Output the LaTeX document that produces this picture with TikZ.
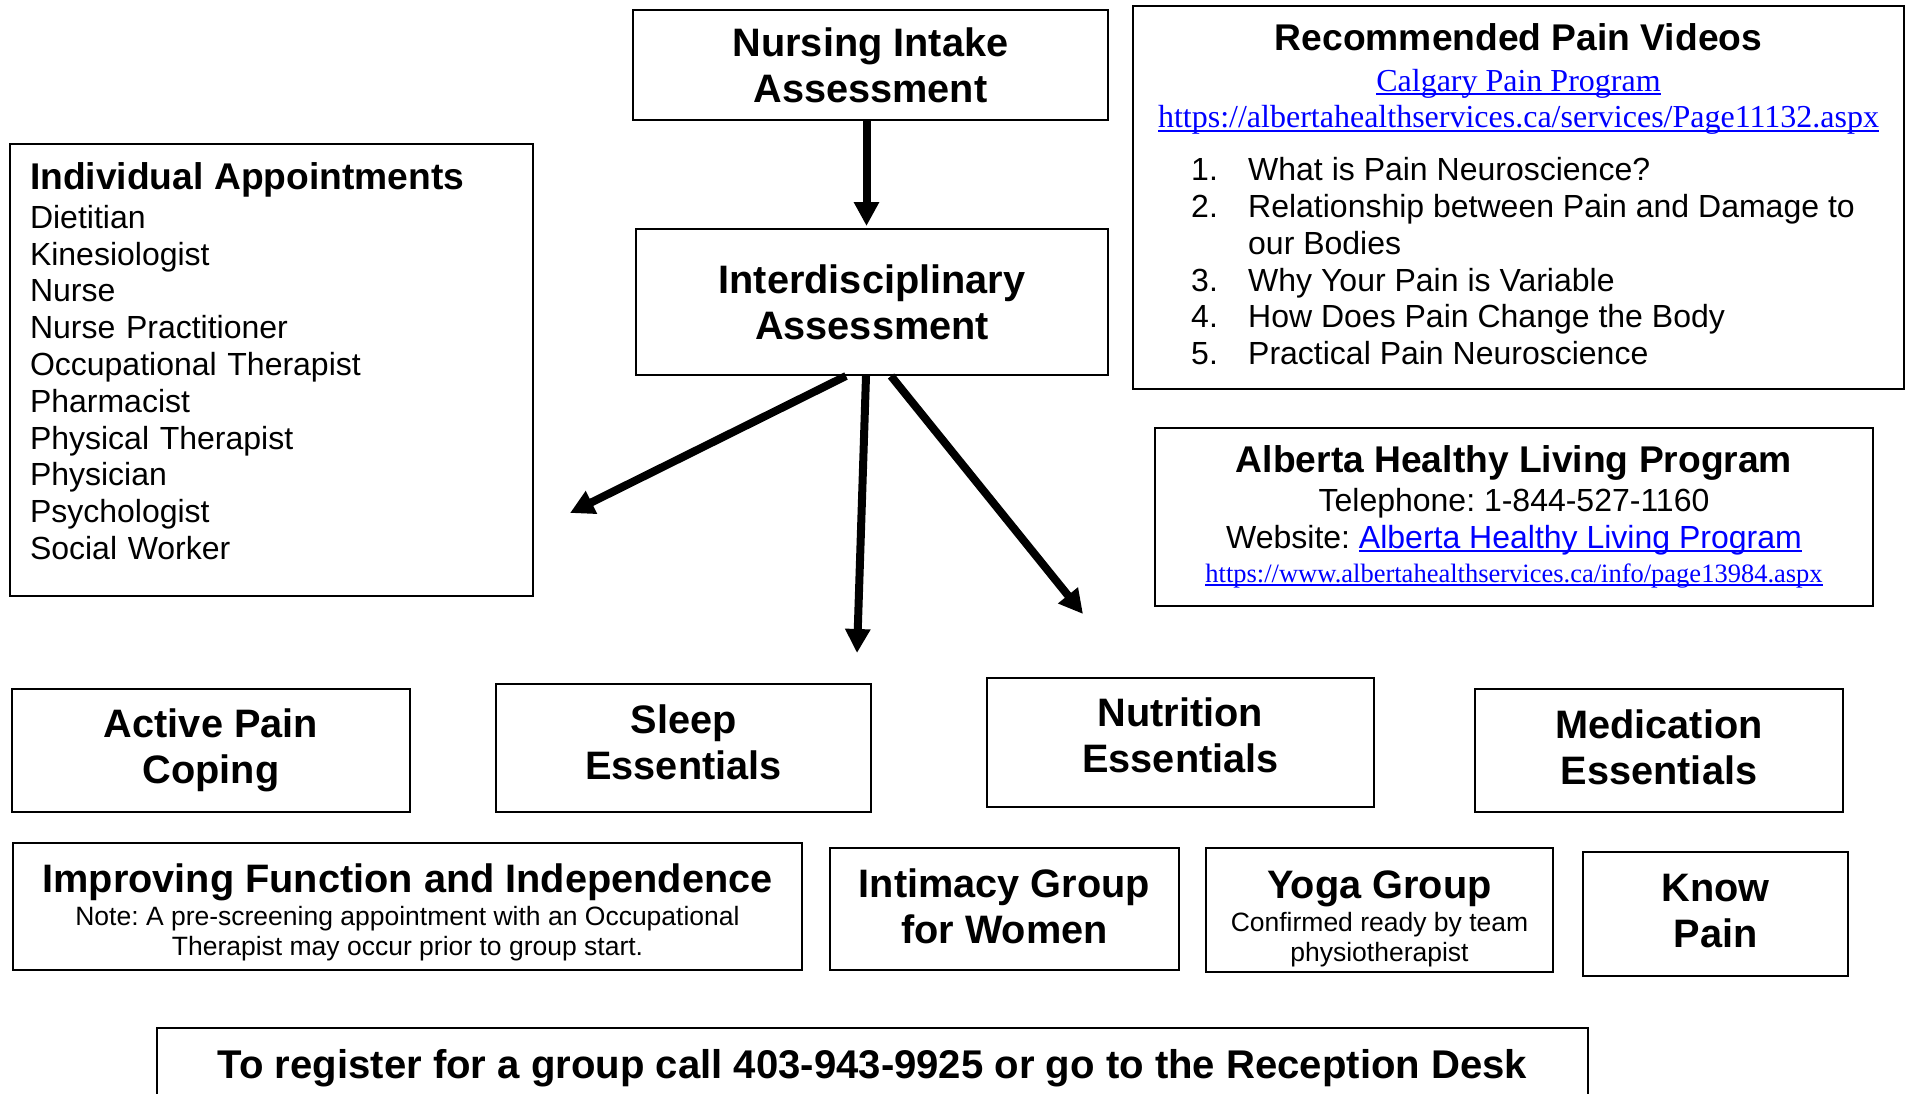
\documentclass[tikz,border=0pt]{standalone}
\usepackage{fontspec}
\setmainfont{Liberation Sans}
\newfontfamily\seriffont{Liberation Serif}
\usetikzlibrary{arrows.meta}
\frenchspacing

\definecolor{linkblue}{RGB}{0,0,255}
\newcommand{\headfont}{\fontsize{39.7}{46}\selectfont\bfseries}
\newcommand{\titlefont}{\fontsize{37.2}{41}\selectfont\bfseries}
\newcommand{\bodyfont}{\fontsize{32}{36.8}\selectfont}
\newcommand{\notefont}{\fontsize{26.5}{30.4}\selectfont}
\newcommand{\weblink}[1]{{\color{linkblue}\setbox0\hbox{#1}\rlap{\rule[-0.12em]{\wd0}{0.065em}}\box0}}
% invisible struts to move text inside a box
\newcommand{\padabove}[1]{\rule{0pt}{#1}}
\newcommand{\padbelow}[1]{\rule[-#1]{0pt}{#1}}

\tikzset{
  box/.style={draw, line width=2pt, align=center, inner sep=0pt},
  flow/.style={line width=8pt, -{Triangle[length=24pt,width=24pt]}},
}

\begin{document}
\begin{tikzpicture}[x=1pt,y=-1pt]
\useasboundingbox (0,0) rectangle (1908,1093);

% intake and assessment
\node[box, minimum width=475pt, minimum height=110pt, font=\headfont] (nurse) at (870.5,65) {Nursing Intake\\Assessment};
\node[box, minimum width=472pt, minimum height=146pt, font=\headfont] (inter) at (872,302) {Interdisciplinary\\Assessment};
\draw[flow] ([xshift=-4pt]nurse.south) -- ([xshift=-5.5pt,yshift=2pt]inter.north);

\coordinate (tipL) at (570,513);
\coordinate (tipC) at (857,653);
\coordinate (tipR) at (1083,614);
\draw[flow] ([xshift=-26pt]inter.south) -- (tipL);
\draw[flow] ([xshift=-6pt]inter.south) -- (tipC);
\draw[flow] ([xshift=19pt]inter.south) -- (tipR);

% appointments list
\node[box, minimum width=523pt, minimum height=452pt, text width=483pt, align=left, font=\bodyfont] (appts) at (271.5,370)
  {{\titlefont Individual Appointments}\\[2pt]
   Dietitian\\ Kinesiologist\\ Nurse\\ Nurse Practitioner\\ Occupational Therapist\\
   Pharmacist\\ Physical Therapist\\ Physician\\ Psychologist\\ Social Worker\padbelow{18pt}};

% videos and healthy living
\node[box, minimum width=771pt, minimum height=383pt, font=\bodyfont] (videos) at (1518.5,197.5)
  {{\titlefont Recommended Pain Videos\padabove{31pt}}\\[4pt]
   {\seriffont\weblink{Calgary Pain Program}}\\
   {\seriffont\weblink{https://albertahealthservices.ca/services/Page11132.aspx}}\\[19pt]
   \begin{tabular}{@{\hspace{9pt}}l@{\hspace{30.3pt}}l@{}}
   1. & What is Pain Neuroscience?\\
   2. & Relationship between Pain and Damage to\\
      & our Bodies\\
   3. & Why Your Pain is Variable\\
   4. & How Does Pain Change the Body\\
   5. & Practical Pain Neuroscience
   \end{tabular}};

\node[box, minimum width=718pt, minimum height=178pt, font=\bodyfont] (ahlp) at (1514,517)
  {{\titlefont Alberta Healthy Living Program}\\[2pt]
   Telephone: 1-844-527-1160\\
   Website: \weblink{Alberta Healthy Living Program}\\[-2pt]
   {\notefont\seriffont\weblink{https://www.albertahealthservices.ca/info/page13984.aspx}}};

% groups
\node[box, minimum width=398pt, minimum height=123pt, font=\headfont] (apc) at (211,750.5) {Active Pain\\Coping};
\node[box, minimum width=375pt, minimum height=128pt, font=\headfont] (sleep) at (683.5,748) {Sleep\\Essentials\padbelow{12pt}};
\node[box, minimum width=387pt, minimum height=129pt, font=\headfont] (nutri) at (1180.5,742.5) {Nutrition\\Essentials\padbelow{14.5pt}};
\node[box, minimum width=368pt, minimum height=123pt, font=\headfont] (meds) at (1659,750.5) {Medication\\Essentials\padbelow{7pt}};

\node[box, minimum width=789pt, minimum height=127pt, font=\notefont] (ifi) at (407.5,906.5)
  {{\headfont Improving Function and Independence\padabove{41pt}}\\[2pt]
   Note: A pre-screening appointment with an Occupational\\
   Therapist may occur prior to group start.};
\node[box, minimum width=349pt, minimum height=122pt, font=\headfont] (intim) at (1004.5,909) {Intimacy Group\\for Women\padbelow{6pt}};
\node[box, minimum width=347pt, minimum height=124pt, font=\notefont] (yoga) at (1379.5,910)
  {{\headfont Yoga Group\padabove{45.5pt}}\\[3pt] Confirmed ready by team\\ physiotherapist};
\node[box, minimum width=265pt, minimum height=124pt, font=\headfont] (know) at (1715.5,914) {Know\\Pain\padbelow{7pt}};

% registration
\node[box, minimum width=1431pt, minimum height=80pt, font=\fontsize{40.1}{46}\selectfont\bfseries] (reg) at (872.5,1068)
  {To register for a group call 403-943-9925 or go to the Reception Desk};
\end{tikzpicture}
\end{document}
